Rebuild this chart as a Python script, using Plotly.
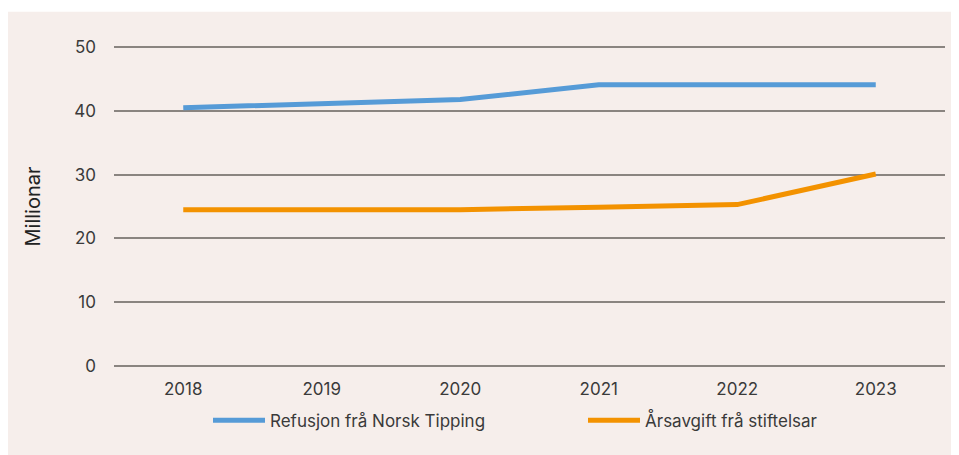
import plotly.graph_objects as go

years = ["2018", "2019", "2020", "2021", "2022", "2023"]
refusjon = [40.5, 41.1, 41.8, 44.1, 44.1, 44.1]
arsavgift = [24.5, 24.5, 24.5, 24.9, 25.3, 30.1]
y_ticks = [0, 10, 20, 30, 40, 50]

BG = "#f6eeeb"
TXT = "#3a3a3a"
FONT = "Inter"

fig = go.Figure()
fig.add_trace(go.Scatter(x=years, y=refusjon, mode="lines", name="Refusjon frå Norsk Tipping",
                         line=dict(color="#569bd7", width=5)))
fig.add_trace(go.Scatter(x=years, y=arsavgift, mode="lines", name="Årsavgift frå stiftelsar",
                         line=dict(color="#f39200", width=5)))

# figure sits at (8, 8) in the page
W, H = 951, 447
L, R, T, B = 106, 14, 38.2, 87.7
pw, ph = W - L - R, H - T - B
# thin white band along the top edge
fig.add_shape(type="rect", xref="paper", yref="paper",
              x0=(0 - L) / pw - 0.01, x1=(W - L) / pw + 0.01,
              y0=(H - B - 4) / ph, y1=(H - B) / ph + 0.01,
              fillcolor="white", line=dict(width=0), layer="below")

fig.update_layout(
    width=W, height=H,
    margin=dict(l=L, r=R, t=T, b=B, autoexpand=False),
    paper_bgcolor=BG, plot_bgcolor="rgba(0,0,0,0)",
    font=dict(family=FONT, size=17, color=TXT),
    showlegend=True,
    legend=dict(orientation="h", x=(200 - L) / pw, xanchor="left", y=-(413 - (H - B)) / ph, yanchor="middle",
                bgcolor="rgba(0,0,0,0)", entrywidth=308, entrywidthmode="pixels",
                font=dict(family=FONT, size=17, color=TXT), itemwidth=52),
    xaxis=dict(type="category", range=[-0.5, 5.5], showgrid=False, zeroline=False, showline=False,
               automargin=False, ticks="", ticklabelstandoff=10, tickfont=dict(family=FONT, size=17, color=TXT)),
    yaxis=dict(range=[-0.2, 50.2], tickvals=y_ticks, showgrid=True, gridcolor="#8a8480", gridwidth=1.5,
               automargin=False, zeroline=False, showline=False, ticks="", ticklabelstandoff=17,
               title=dict(text="Millionar", font=dict(family=FONT, size=20, color="#222"), standoff=28),
               tickfont=dict(family=FONT, size=17, color=TXT)),
)
fig.write_html("out.html")
